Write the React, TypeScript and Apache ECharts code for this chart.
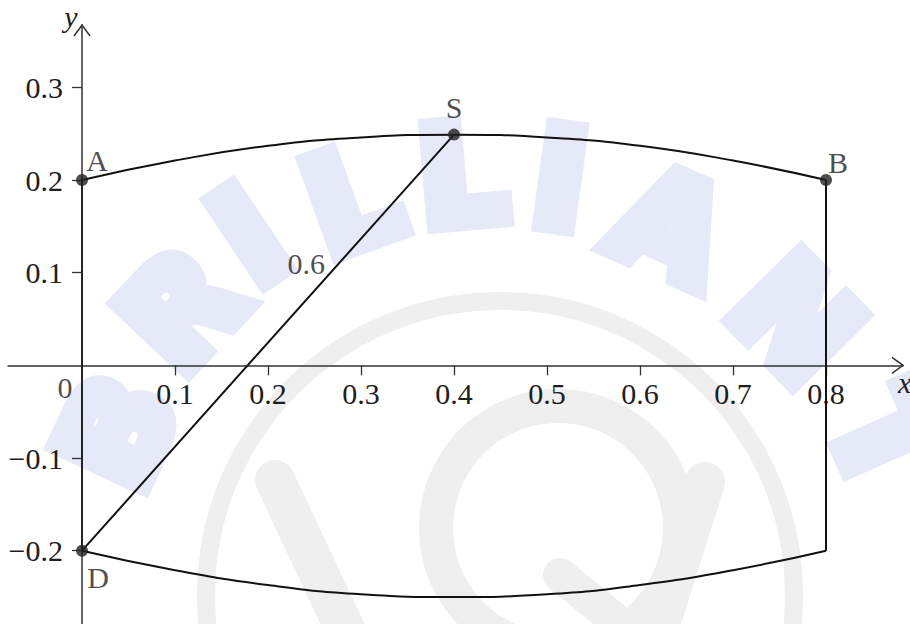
import React, { useEffect, useRef } from 'react';
import * as echarts from 'echarts';

// ---- data ----
const X_TICKS = [0.1, 0.2, 0.3, 0.4, 0.5, 0.6, 0.7, 0.8];
const Y_TICKS = [-0.2, -0.1, 0.1, 0.2, 0.3];
const ARC_X = [0, 0.1, 0.2, 0.3, 0.4, 0.5, 0.6, 0.7, 0.8];
const TOP_ARC_Y = [0.2, 0.221, 0.237, 0.246, 0.249, 0.246, 0.237, 0.221, 0.2];
const BOTTOM_ARC_Y = [-0.2, -0.221, -0.237, -0.247, -0.25, -0.247, -0.237, -0.221, -0.2];
const POINT_NAMES = ['A', 'S', 'B', 'D'];
const POINT_X = [0, 0.4, 0.8, 0];
const POINT_Y = [0.2, 0.249, 0.2, -0.2];
const SEGMENT_LABEL = '0.6';
const SEGMENT_LABEL_POS = [0.241, 0.11];
const ORIGIN_LABEL = '0';
const AXIS_NAMES = ['x', 'y'];
const WATERMARK_WORD = 'BRILLIANT';

// ---- axis extents ----
const X_MIN = -0.0796;
const X_MAX = 0.8828;
const Y_MIN = -0.2791;
const Y_MAX = 0.3673;

// ---- styling ----
const FONT = "'Liberation Serif', 'Times New Roman', serif";
const TEXT_COLOR = '#1e1e1e';
const AXIS_COLOR = '#333';
const CURVE_COLOR = '#111';
const POINT_LABEL_OFFSET: Record<string, number[]> = {
  A: [15, -20],
  S: [0, -27],
  B: [12, -18],
  D: [16, 27],
};
const WM_CENTERS = [
  [118, 432], [182, 310], [250, 237], [352, 200], [462, 176],
  [560, 180], [670, 226], [795, 320], [885, 440],
];
const WM_ARC_CENTER = [500, 610];

const fmt = (v: number) => (v < 0 ? '\u2212' + Math.abs(v).toFixed(1) : v.toFixed(1));

export default function App() {
  const ref = useRef<HTMLDivElement>(null);

  useEffect(() => {
    if (!ref.current) return;
    const chart = echarts.init(ref.current, null, { renderer: 'svg' });

    const pts = POINT_NAMES.map((n, i) => [POINT_X[i], POINT_Y[i]]);
    const iA = POINT_NAMES.indexOf('A');
    const iS = POINT_NAMES.indexOf('S');
    const iB = POINT_NAMES.indexOf('B');
    const iD = POINT_NAMES.indexOf('D');
    const lastIdx = ARC_X.length - 1;

    const lineBase = {
      type: 'line',
      symbol: 'none',
      lineStyle: { color: CURVE_COLOR, width: 2 },
      z: 3,
      silent: true,
    };

    const axisCommon = {
      type: 'value',
      splitLine: { show: false },
      axisLine: { onZero: false, lineStyle: { color: AXIS_COLOR, width: 1.5 } },
    };

    const option: any = {
      animation: false,
      backgroundColor: '#fff',
      grid: { left: 8, right: 7, top: 25, bottom: 0, containLabel: false, outerBoundsMode: 'none' },
      xAxis: {
        ...axisCommon,
        position: 'bottom',
        min: X_MIN,
        max: X_MAX,
        axisTick: {
          show: true,
          inside: false,
          customValues: X_TICKS,
          length: 10,
          lineStyle: { color: AXIS_COLOR, width: 1.3 },
        },
        axisLabel: {
          customValues: X_TICKS,
          formatter: fmt,
          margin: 13,
          fontSize: 30,
          fontFamily: FONT,
          color: TEXT_COLOR,
        },
      },
      yAxis: {
        ...axisCommon,
        position: 'left',
        min: Y_MIN,
        max: Y_MAX,
        axisTick: {
          show: true,
          inside: false,
          customValues: Y_TICKS,
          length: 10,
          lineStyle: { color: AXIS_COLOR, width: 1.3 },
        },
        axisLabel: {
          customValues: Y_TICKS,
          formatter: fmt,
          margin: 19,
          fontSize: 30,
          fontFamily: FONT,
          color: TEXT_COLOR,
        },
      },
      series: [
        { ...lineBase, smooth: true, data: ARC_X.map((x, i) => [x, TOP_ARC_Y[i]]) },
        { ...lineBase, smooth: true, data: ARC_X.map((x, i) => [x, BOTTOM_ARC_Y[i]]) },
        { ...lineBase, data: [pts[iD], pts[iS]] },
        { ...lineBase, data: [pts[iB], [ARC_X[lastIdx], BOTTOM_ARC_Y[lastIdx]]] },
        { ...lineBase, lineStyle: { color: CURVE_COLOR, width: 1.5 }, data: [pts[iA], pts[iD]] },
        {
          type: 'scatter',
          symbolSize: 12,
          itemStyle: { color: '#222' },
          z: 4,
          label: {
            show: true,
            formatter: '{b}',
            position: 'inside',
            fontSize: 30,
            fontFamily: FONT,
            color: TEXT_COLOR,
          },
          data: POINT_NAMES.map((n, i) => ({
            name: n,
            value: [POINT_X[i], POINT_Y[i]],
            label: { offset: POINT_LABEL_OFFSET[n] },
          })),
        },
        {
          type: 'scatter',
          symbolSize: 1,
          itemStyle: { color: 'rgba(0,0,0,0)' },
          z: 4,
          label: {
            show: true,
            formatter: '{b}',
            position: 'inside',
            fontSize: 30,
            fontFamily: FONT,
            color: TEXT_COLOR,
          },
          data: [
            { name: SEGMENT_LABEL, value: SEGMENT_LABEL_POS },
            { name: ORIGIN_LABEL, value: [0, 0], label: { offset: [-17, 22] } },
          ],
        },
      ],
    };
    chart.setOption(option);

    const toPx = (p: number[]) => chart.convertToPixel({ gridIndex: 0 }, p) as number[];
    const zero = toPx([0, 0]);
    const bottomLeft = toPx([X_MIN, Y_MIN]);
    const xTip = toPx([X_MAX, 0]);
    const yTip = toPx([0, Y_MAX]);

    const WM_BLUE = '#e6e9f8';
    const WM_GRAY = '#efefef';

    const letters = WATERMARK_WORD.split('').map((ch, i) => {
      const [cx, cy] = WM_CENTERS[i];
      const ang = Math.atan2(cx - WM_ARC_CENTER[0], WM_ARC_CENTER[1] - cy);
      return {
        type: 'text',
        x: cx,
        y: cy,
        rotation: -ang,
        z: -10,
        silent: true,
        style: {
          text: ch,
          fill: WM_BLUE,
          stroke: WM_BLUE,
          lineWidth: 18,
          lineJoin: 'round',
          fontSize: 134,
          fontWeight: 'bold',
          fontFamily: "'DejaVu Sans', sans-serif",
          align: 'center',
          verticalAlign: 'middle',
          textAlign: 'center',
          textVerticalAlign: 'middle',
        },
      };
    });

    const watermarkGray = [
      {
        type: 'circle',
        z: -11,
        silent: true,
        shape: { cx: 500, cy: 595, r: 294 },
        style: { fill: 'none', stroke: WM_GRAY, lineWidth: 18 },
      },
      {
        type: 'circle',
        z: -11,
        silent: true,
        shape: { cx: 558, cy: 528, r: 122 },
        style: { fill: 'none', stroke: WM_GRAY, lineWidth: 34 },
      },
      {
        type: 'line',
        z: -11,
        silent: true,
        shape: { x1: 275, y1: 480, x2: 350, y2: 640 },
        style: { stroke: WM_GRAY, lineWidth: 40, lineCap: 'round' },
      },
      {
        type: 'line',
        z: -11,
        silent: true,
        shape: { x1: 705, y1: 482, x2: 655, y2: 640 },
        style: { stroke: WM_GRAY, lineWidth: 40, lineCap: 'round' },
      },
      {
        type: 'line',
        z: -11,
        silent: true,
        shape: { x1: 560, y1: 575, x2: 640, y2: 640 },
        style: { stroke: WM_GRAY, lineWidth: 34, lineCap: 'round' },
      },
    ];

    const arrows = [
      {
        type: 'polyline',
        z: 5,
        silent: true,
        shape: { points: [[xTip[0] - 11, xTip[1] - 8], [xTip[0], xTip[1]], [xTip[0] - 11, xTip[1] + 8]] },
        style: { fill: 'none', stroke: AXIS_COLOR, lineWidth: 1.5 },
      },
      {
        type: 'polyline',
        z: 5,
        silent: true,
        shape: { points: [[yTip[0] - 8, yTip[1] + 11], [yTip[0], yTip[1]], [yTip[0] + 8, yTip[1] + 11]] },
        style: { fill: 'none', stroke: AXIS_COLOR, lineWidth: 1.5 },
      },
    ];

    const names = [
      {
        type: 'text',
        z: 5,
        x: xTip[0] - 5,
        y: xTip[1] + 17,
        style: {
          text: AXIS_NAMES[0],
          fill: TEXT_COLOR,
          fontSize: 30,
          fontStyle: 'italic',
          fontFamily: FONT,
          align: 'left',
          verticalAlign: 'middle',
          textAlign: 'left',
          textVerticalAlign: 'middle',
        },
      },
      {
        type: 'text',
        z: 5,
        x: yTip[0] - 11,
        y: yTip[1] - 9,
        style: {
          text: AXIS_NAMES[1],
          fill: TEXT_COLOR,
          fontSize: 30,
          fontStyle: 'italic',
          fontFamily: FONT,
          align: 'center',
          verticalAlign: 'middle',
          textAlign: 'center',
          textVerticalAlign: 'middle',
        },
      },
    ];

    chart.setOption({
      xAxis: { offset: -(bottomLeft[1] - zero[1]) },
      yAxis: { offset: -(zero[0] - bottomLeft[0]) },
      graphic: [...watermarkGray, ...letters, ...arrows, ...names],
    });

    return () => chart.dispose();
  }, []);

  return (
    <div
      ref={ref}
      style={{ position: 'absolute', left: 0, top: 0, width: 910, height: 624 }}
    />
  );
}
